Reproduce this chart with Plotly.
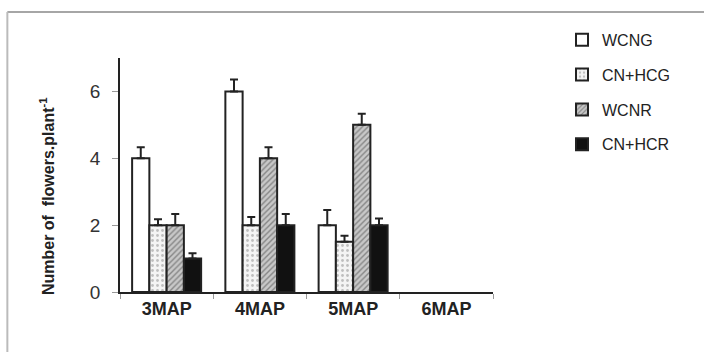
import plotly.graph_objects as go

categories = ["3MAP", "4MAP", "5MAP", "6MAP"]
series_names = ["WCNG", "CN+HCG", "WCNR", "CN+HCR"]
wcng = [4, 6, 2, None]
cnhcg = [2, 2, 1.5, None]
wcnr = [2, 4, 5, None]
cnhcr = [1, 2, 2, None]
err_wcng = [0.33, 0.36, 0.45, 0]
err_cnhcg = [0.18, 0.24, 0.18, 0]
err_wcnr = [0.33, 0.33, 0.33, 0]
err_cnhcr = [0.16, 0.33, 0.2, 0]
yticks = [0, 2, 4, 6]
y_title = "<b>Number of  flowers.plant<sup>-1</sup></b>"

values = [wcng, cnhcg, wcnr, cnhcr]
errors = [err_wcng, err_cnhcg, err_wcnr, err_cnhcr]
styles = [
    dict(color="white", pattern=dict(shape="")),
    dict(color="white", pattern=dict(shape=".", fgcolor="#888888", bgcolor="#f4f4f4", size=5, solidity=0.25)),
    dict(color="#bbbbbb", pattern=dict(shape="/", fgcolor="#444444", bgcolor="#c8c8c8", size=4, solidity=0.35)),
    dict(color="#111111", pattern=dict(shape="")),
]

FONT = "Liberation Sans, Arial, sans-serif"

fig = go.Figure()
for name, vals, errs, st in zip(series_names, values, errors, styles):
    fig.add_trace(go.Bar(
        x=categories, y=vals, name=name, legendgroup=name,
        marker=dict(color=st["color"], pattern=st["pattern"],
                    line=dict(color="#222222", width=2)),
        error_y=dict(type="data", array=errs, arrayminus=[0]*len(errs), symmetric=False,
                     color="#222222", thickness=2, width=4),
    ))

fig.update_layout(
    width=704, height=352,
    margin=dict(l=120, r=211, t=58, b=60),
    paper_bgcolor="white", plot_bgcolor="white",
    barmode="group", bargap=0.26, bargroupgap=0,
    font=dict(family=FONT, color="#222222"),
    showlegend=True,
    legend=dict(x=1.185, y=1.15, xanchor="left", yanchor="top",
                font=dict(size=16, color="#222222", family=FONT), tracegroupgap=11,
                traceorder="grouped", bgcolor="rgba(0,0,0,0)"),
    xaxis=dict(showline=True, linecolor="#222222", linewidth=1.5,
               ticks="outside", tickson="boundaries", ticklen=5, tickcolor="#999999",
               tickfont=dict(size=18, family=FONT, color="#222222"),
               showgrid=False, zeroline=False),
    yaxis=dict(range=[0, 7], tickvals=yticks, showline=True, linecolor="#222222", linewidth=1.5,
               ticks="outside", ticklen=6, tickcolor="#999999",
               tickfont=dict(size=19, color="#333333", family=FONT), ticklabelstandoff=8,
               showgrid=False, zeroline=False),
)
fig.update_xaxes(tickvals=categories, ticktext=[f"<b>{c}</b>" for c in categories])

fig.add_annotation(xref="paper", yref="paper", x=-0.1957, y=0.41, text=y_title,
                   textangle=-90, showarrow=False, xanchor="center", yanchor="middle",
                   font=dict(size=16, color="#222222", family=FONT))

# outer frame lines
fig.add_shape(type="line", xref="paper", yref="paper", x0=-0.302, x1=1.6, y0=1.1966, y1=1.1966,
              line=dict(color="#888888", width=1.5))
fig.add_shape(type="line", xref="paper", yref="paper", x0=-0.302, x1=-0.302, y0=1.1966, y1=-0.3,
              line=dict(color="#bbbbbb", width=2))

fig.write_html("out.html")
